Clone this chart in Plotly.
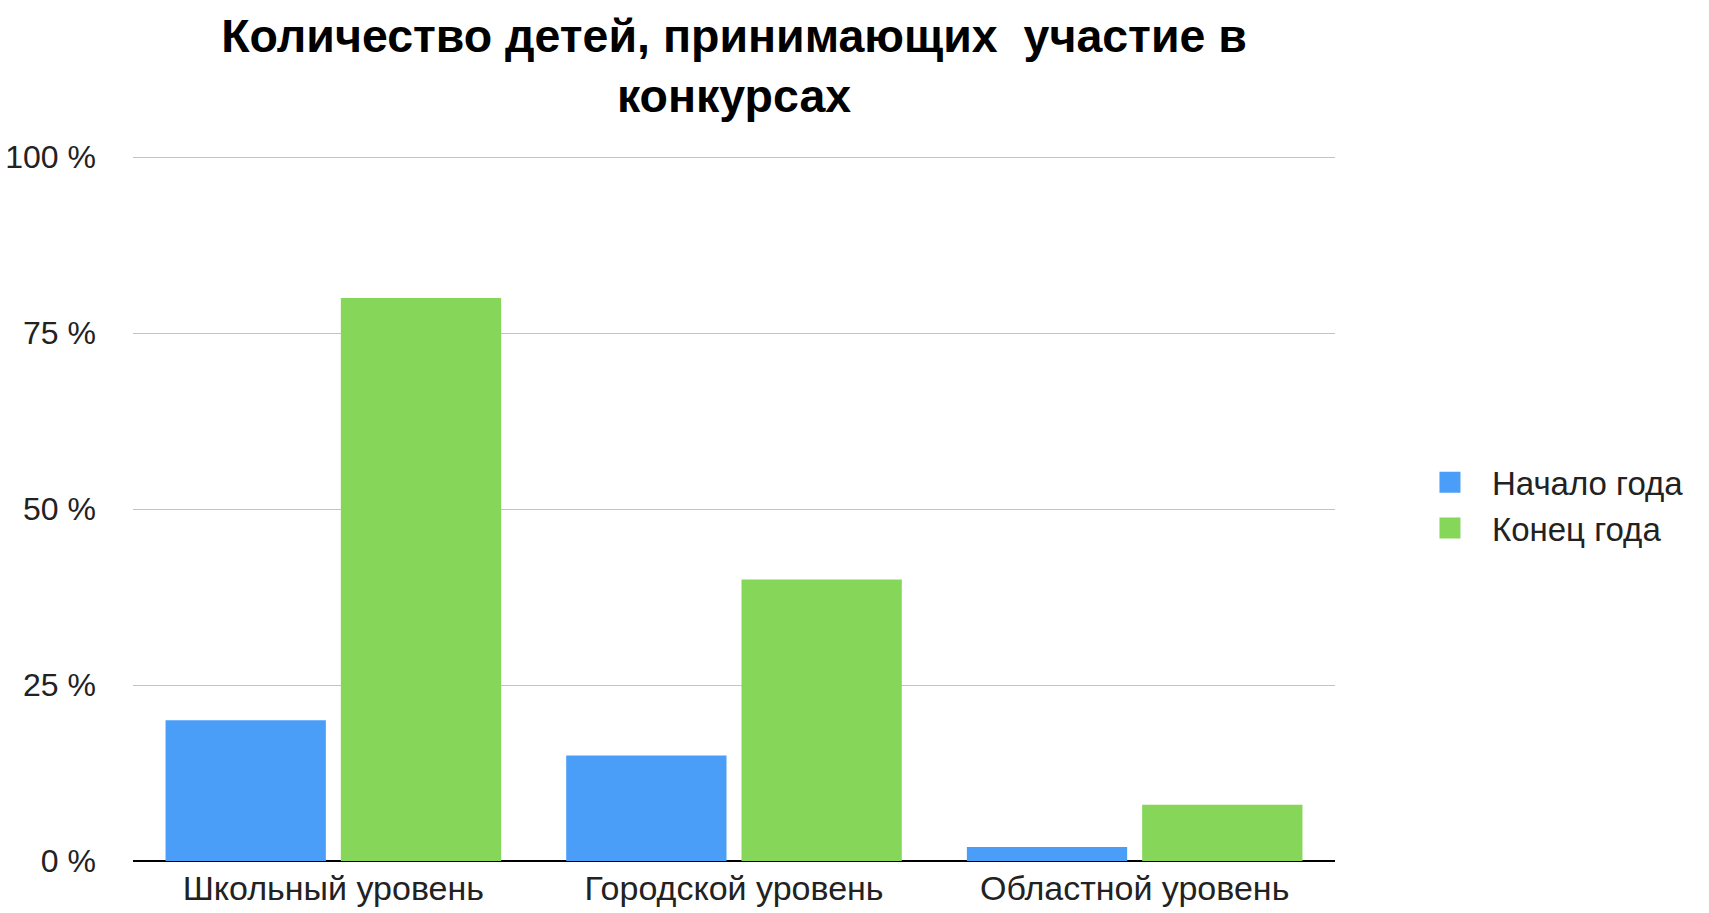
import plotly.graph_objects as go

categories = ["Школьный уровень", "Городской уровень", "Областной уровень"]
start_year = [20, 15, 2]
end_year = [80, 40, 8]
series_names = ["Начало года", "Конец года"]
series_colors = ["#4A9EF7", "#86D65A"]
tick_vals = [0, 25, 50, 75, 100]
tick_text = ["0 %", "25 %", "50 %", "75 %", "100 %"]

FONT = "Liberation Sans, Arial, sans-serif"

fig = go.Figure()
for vals, name, col in zip([start_year, end_year], series_names, series_colors):
    fig.add_trace(go.Bar(x=categories, y=vals, name=name, showlegend=False,
                         marker=dict(color=col, line=dict(width=0))))
# legend entries with bigger square swatches
for name, col in zip(series_names, series_colors):
    fig.add_trace(go.Scatter(x=[None], y=[None], mode="markers", name=name,
                             marker=dict(symbol="square", size=16, color=col,
                                         line=dict(width=5, color=col)),
                             hoverinfo="skip"))

fig.update_layout(
    width=1709, height=913,
    paper_bgcolor="white", plot_bgcolor="white",
    barmode="group", bargap=0.125, bargroupgap=0.0855,
    margin=dict(l=133, r=374, t=155, b=52, autoexpand=False),
    font=dict(family=FONT, color="#222222", size=32),
    title=dict(
        text="<b>Количество детей, принимающих  участие в<br>конкурсах</b>",
        x=0.5, xref="paper", xanchor="center",
        y=0.9435, yref="container", yanchor="top",
        font=dict(family=FONT, size=46.5, color="#000000"),
    ),
    legend=dict(
        x=1.0607, xanchor="left", y=0.504, yanchor="middle",
        font=dict(family=FONT, size=33, color="#222222"),
        bgcolor="rgba(0,0,0,0)", itemwidth=74,
    ),
    showlegend=True,
)
fig.update_xaxes(
    automargin=False,
    showgrid=False, showline=False, ticks="", ticklabelstandoff=4,
    tickfont=dict(family=FONT, size=34, color="#222222"),
)
fig.update_yaxes(
    automargin=False,
    range=[0, 100.3], tickvals=tick_vals, ticktext=tick_text,
    showgrid=True, gridcolor="#c4c4c4", gridwidth=1,
    zeroline=True, zerolinecolor="#000000", zerolinewidth=2,
    showline=False, ticks="", ticklabelstandoff=36,
    tickfont=dict(family=FONT, size=32, color="#222222"),
)

fig.write_html(
    "out.html",
    config={"displayModeBar": False},
    post_script="document.body.style.margin='0';document.body.style.overflow='hidden';",
)
